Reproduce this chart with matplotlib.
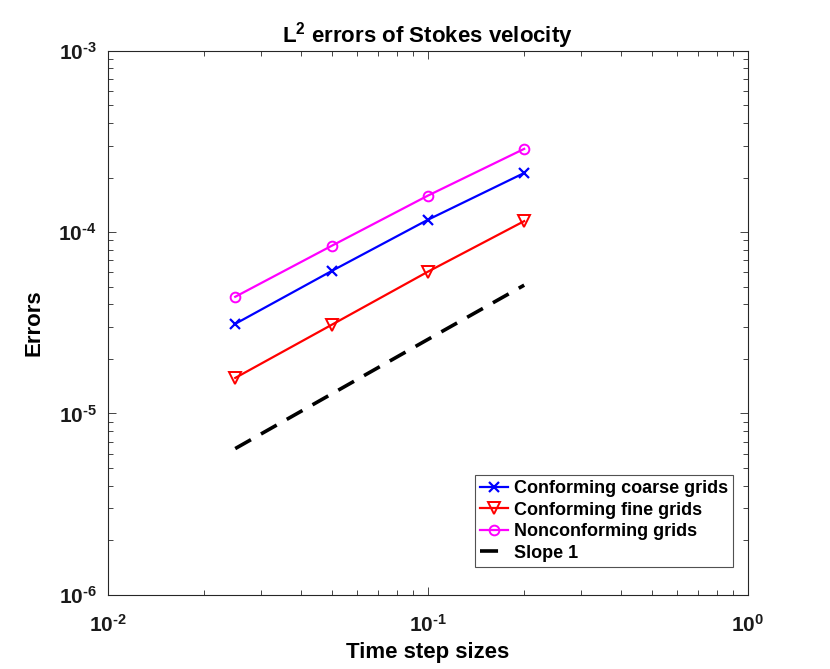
import matplotlib
matplotlib.use("Agg")
import matplotlib.pyplot as plt
from matplotlib.ticker import LogLocator, NullFormatter, FixedLocator, FixedFormatter

plt.rcParams["font.family"] = ["Liberation Sans", "DejaVu Sans"]
plt.rcParams["font.weight"] = "bold"
plt.rcParams["mathtext.fontset"] = "custom"
plt.rcParams["mathtext.rm"] = "Liberation Sans:bold"
plt.rcParams["mathtext.bf"] = "Liberation Sans:bold"
plt.rcParams["mathtext.default"] = "bf"

# data
dt = [0.025, 0.05, 0.1, 0.2]
coarse = [3.12e-5, 6.1e-5, 1.17e-4, 2.12e-4]
fine = [1.57e-5, 3.08e-5, 6.05e-5, 1.15e-4]
noncon = [4.40e-5, 8.4e-5, 1.59e-4, 2.88e-4]
slope1 = [6.4e-6, 1.28e-5, 2.56e-5, 5.1e-5]

xticks = [1e-2, 1e-1, 1e0]
xticklabels = [r"$10^{\text{-2}}$", r"$10^{\text{-1}}$", r"$10^{0}$"]
yticks = [1e-6, 1e-5, 1e-4, 1e-3]
yticklabels = [r"$10^{\text{-6}}$", r"$10^{\text{-5}}$", r"$10^{\text{-4}}$", r"$10^{\text{-3}}$"]

fig = plt.figure(figsize=(8.3, 6.69), dpi=100)
ax = fig.add_axes([0.130, 0.111, 0.771, 0.813])

ax.loglog(dt, coarse, color="blue", lw=1.6, marker="x", ms=6.5, mew=1.6,
          label="Conforming coarse grids")
ax.loglog(dt, fine, color="red", lw=1.6, marker="v", ms=9, mew=1.4,
          mfc="none", label="Conforming fine grids")
ax.loglog(dt, noncon, color="magenta", lw=1.6, marker="o", ms=7, mew=1.4,
          mfc="none", label="Nonconforming grids")
ax.loglog(dt, slope1, color="black", lw=2.6, ls=(0, (5, 3.2)), label="Slope 1")

ax.set_xlim(1e-2, 1e0)
ax.set_ylim(1e-6, 1e-3)

ax.xaxis.set_major_locator(FixedLocator(xticks))
ax.xaxis.set_major_formatter(FixedFormatter(xticklabels))
ax.yaxis.set_major_locator(FixedLocator(yticks))
ax.yaxis.set_major_formatter(FixedFormatter(yticklabels))
for axis in (ax.xaxis, ax.yaxis):
    axis.set_minor_locator(LogLocator(base=10, subs=range(2, 10), numticks=20))
    axis.set_minor_formatter(NullFormatter())

edge = "#262626"
for sp in ax.spines.values():
    sp.set_color(edge)
    sp.set_linewidth(0.8)
ax.tick_params(which="both", direction="in", top=True, right=True, colors=edge,
               labelcolor="#1a1a1a", width=0.6)
ax.tick_params(which="major", length=6, labelsize=15)
ax.tick_params(axis="x", which="major", pad=14)
ax.tick_params(axis="y", which="major", pad=8)
ax.tick_params(which="minor", length=3.5)

ax.set_xlabel("Time step sizes", fontsize=16, fontweight="bold", labelpad=4)
ax.set_ylabel("Errors", fontsize=16, fontweight="bold", labelpad=10)
ax.set_title(r"L$^{2}$ errors of Stokes velocity", fontsize=16, fontweight="bold", pad=6)

leg = ax.legend(loc="lower right", bbox_to_anchor=(0.977, 0.051), borderaxespad=0,
                fontsize=13, frameon=True, fancybox=False, handlelength=1.55,
                handletextpad=0.3, borderpad=0.3, labelspacing=0.25)
leg.get_frame().set_edgecolor(edge)
leg.get_frame().set_linewidth(0.8)
for t in leg.get_texts():
    t.set_fontweight("bold")

fig.savefig("out.png", dpi=100)
